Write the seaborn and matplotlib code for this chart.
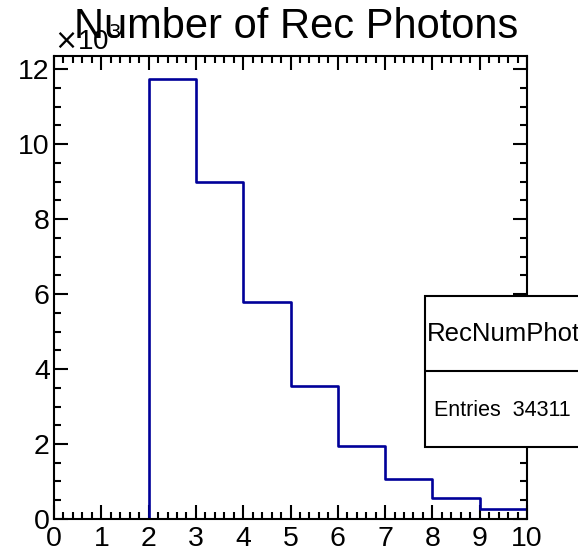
import numpy as np
import pandas as pd
import matplotlib
matplotlib.use('Agg')
import matplotlib.pyplot as plt
import seaborn as sns
from matplotlib.ticker import MultipleLocator, FuncFormatter
from matplotlib.patches import Rectangle
from matplotlib.lines import Line2D

# Histogram contents (bins of width 1 from 0 to 10)
bin_edges = [0, 1, 2, 3, 4, 5, 6, 7, 8, 9, 10]
bin_centers = [0.5, 1.5, 2.5, 3.5, 4.5, 5.5, 6.5, 7.5, 8.5, 9.5]
counts = [0, 0, 11730, 8990, 5790, 3550, 1950, 1070, 560, 270]
hist_name = 'RecNumPhot'
n_entries = 34311
title = 'Number of Rec Photons'

sns.set_style('ticks')
plt.rcParams['font.family'] = ['Liberation Sans', 'DejaVu Sans']
plt.rcParams['text.color'] = 'black'
plt.rcParams['xtick.labelcolor'] = 'black'
plt.rcParams['ytick.labelcolor'] = 'black'

df = pd.DataFrame({'nphot': bin_centers, 'w': counts})

fig = plt.figure(figsize=(5.78, 5.53), dpi=100)
ax = fig.add_axes([0.0934, 0.0615, 0.9118 - 0.0934, 0.8987 - 0.0615])

sns.histplot(data=df, x='nphot', weights='w', bins=bin_edges, element='step',
             fill=False, color='#000099', linewidth=1.9, ax=ax)

ax.set_xlim(0, 10)
ax.set_ylim(0, 12347)
ax.set_xlabel('')
ax.set_ylabel('')

ax.xaxis.set_major_locator(MultipleLocator(1))
ax.xaxis.set_minor_locator(MultipleLocator(0.2))
ax.yaxis.set_major_locator(MultipleLocator(2000))
ax.yaxis.set_minor_locator(MultipleLocator(500))
ax.yaxis.set_major_formatter(FuncFormatter(lambda v, p: f'{v / 1000:g}'))

ax.tick_params(which='both', direction='in', top=True, right=True, width=1.5,
               labelsize=20.5, color='black', labelcolor='black')
ax.tick_params(which='major', length=10)
ax.tick_params(which='minor', length=5)
ax.tick_params(axis='x', pad=5)
ax.tick_params(axis='y', pad=3)
for s in ax.spines.values():
    s.set_linewidth(1.5)
    s.set_color('black')

# ROOT-style exponent label and title
fig.text(54 / 578, 1 - 50 / 553, r'$\times$10$^{3}$', fontsize=20, ha='left',
         va='baseline')
fig.text(296 / 578, 1 - 38 / 553, title, fontsize=30, ha='center', va='baseline')

# stats box, running off the right edge
box = Rectangle((425 / 578, 1 - 447 / 553), 0.5, (447 - 296) / 553,
                transform=fig.transFigure, facecolor='white', edgecolor='black',
                linewidth=1.5, zorder=5)
fig.add_artist(box)
fig.add_artist(Line2D([425 / 578, 1.0], [1 - 371 / 553, 1 - 371 / 553],
                      transform=fig.transFigure, color='black', linewidth=1.5,
                      zorder=6))
fig.text(427 / 578, 1 - 334 / 553, hist_name, fontsize=18.5, ha='left',
         va='center', zorder=7)
fig.text(434 / 578, 1 - 410 / 553, f'Entries  {n_entries}', fontsize=15.5,
         ha='left', va='center', zorder=7)

fig.savefig('out.png', dpi=100)
